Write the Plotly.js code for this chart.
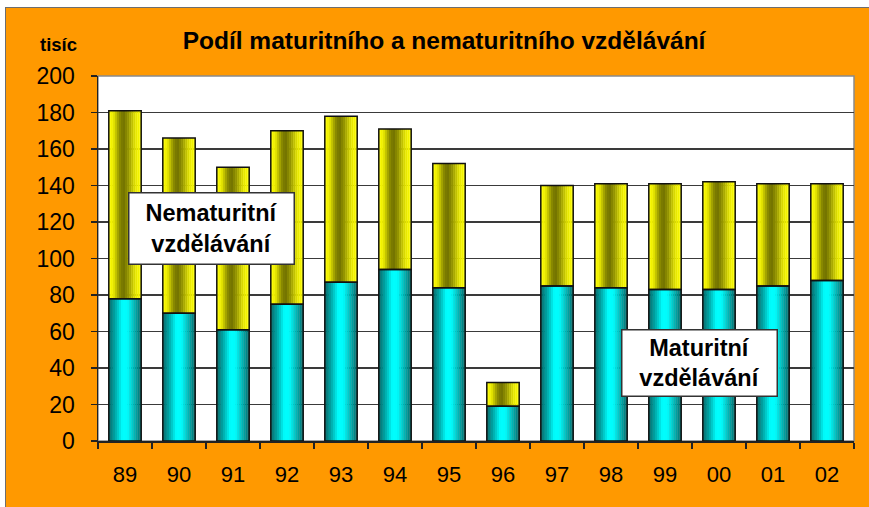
<!DOCTYPE html>
<html>
<head>
<meta charset="utf-8">
<script src="https://cdn.plot.ly/plotly-3.0.1.min.js"></script>
<style>
  html, body { margin: 0; padding: 0; background: #ffffff; width: 869px; height: 507px; overflow: hidden; }
  #frame { position: absolute; left: 5px; top: 7px; width: 864px; height: 500px; border-left: 1px solid #6e6e6e; border-top: 1px solid #6e6e6e; }
  #chart { width: 864px; height: 500px; }
</style>
</head>
<body>
<div id="frame"><div id="chart"></div></div>
<script>
// ---- data (thousands) ----
const years = ['89', '90', '91', '92', '93', '94', '95', '96', '97', '98', '99', '00', '01', '02'];
const maturitni = [78, 70, 61, 75, 87, 94, 84, 19, 85, 84, 83, 83, 85, 88];
const nematuritni = [103, 96, 89, 95, 91, 77, 68, 13, 55, 57, 58, 59, 56, 53];
const yTicks = [0, 20, 40, 60, 80, 100, 120, 140, 160, 180, 200];

// ---- styling helpers (cylinder-like shading via narrow strips) ----
const BAR_W = 0.6;
const N_STRIPS = 16;
const cyanStops = [[0, [0, 100, 100]], [0.2, [0, 170, 170]], [0.42, [0, 255, 255]], [0.58, [0, 250, 250]], [0.8, [0, 175, 175]], [1, [0, 100, 100]]];
const yellowStops = [[0, [255, 255, 0]], [0.14, [235, 235, 0]], [0.33, [140, 140, 0]], [0.45, [112, 112, 0]], [0.6, [150, 150, 0]], [0.82, [230, 230, 0]], [1, [255, 255, 0]]];

function colorAt(stops, t) {
  for (let k = 0; k < stops.length - 1; k++) {
    const [t0, c0] = stops[k], [t1, c1] = stops[k + 1];
    if (t >= t0 && t <= t1) {
      const f = (t - t0) / (t1 - t0);
      const c = c0.map((v, j) => Math.round(v + (c1[j] - v) * f));
      return 'rgb(' + c.join(',') + ')';
    }
  }
  const c = stops[stops.length - 1][1];
  return 'rgb(' + c.join(',') + ')';
}

const traces = [];
const stripW = BAR_W / N_STRIPS;
for (let i = 0; i < N_STRIPS; i++) {
  const t = (i + 0.5) / N_STRIPS;
  traces.push({
    type: 'bar', x: years, y: maturitni, base: 0,
    width: stripW * 1.05, offset: -BAR_W / 2 + i * stripW,
    marker: { color: colorAt(cyanStops, t), line: { width: 0 } },
    hoverinfo: 'skip', showlegend: false
  });
  traces.push({
    type: 'bar', x: years, y: nematuritni, base: maturitni,
    width: stripW * 1.05, offset: -BAR_W / 2 + i * stripW,
    marker: { color: colorAt(yellowStops, t), line: { width: 0 } },
    hoverinfo: 'skip', showlegend: false
  });
}
// outlines
traces.push({
  type: 'bar', x: years, y: maturitni, base: 0, width: BAR_W, offset: -BAR_W / 2,
  marker: { color: 'rgba(0,0,0,0)', line: { color: '#111111', width: 1.5 } },
  hoverinfo: 'skip', showlegend: false
});
traces.push({
  type: 'bar', x: years, y: nematuritni, base: maturitni, width: BAR_W, offset: -BAR_W / 2,
  marker: { color: 'rgba(0,0,0,0)', line: { color: '#111111', width: 1.5 } },
  hoverinfo: 'skip', showlegend: false
});

const layout = {
  width: 864, height: 500,
  margin: { l: 92, r: 16, t: 68, b: 67, pad: 0 },
  paper_bgcolor: '#ff9900',
  plot_bgcolor: '#ffffff',
  barmode: 'overlay',
  hovermode: false,
  title: {
    text: '<b>Podíl maturitního a nematuritního vzdělávání</b>',
    font: { family: 'Liberation Sans, Arial, sans-serif', size: 24.5, color: '#000000' },
    x: 0.507, xanchor: 'center', y: 0.935, yanchor: 'middle'
  },
  xaxis: {
    type: 'category', range: [-0.5, 13.5],
    tickson: 'boundaries', ticks: 'outside', ticklen: 6, tickwidth: 1.5, tickcolor: '#222222',
    showline: true, linecolor: '#222222', linewidth: 1.5,
    showgrid: false, zeroline: false,
    ticklabelstandoff: 13,
    tickfont: { family: 'Liberation Sans Narrow, Arial Narrow, Liberation Sans, Arial, sans-serif', size: 22, color: '#000000' }
  },
  yaxis: {
    range: [0, 200], tickmode: 'array', tickvals: yTicks, ticktext: yTicks.map(String),
    ticks: 'outside', ticklen: 6, tickwidth: 1.5, tickcolor: '#222222',
    showline: true, linecolor: '#222222', linewidth: 1.5,
    showgrid: true, gridcolor: '#3a3a3a', gridwidth: 1.2, zeroline: false,
    ticklabelstandoff: 11,
    tickfont: { family: 'Liberation Sans, Arial, sans-serif', size: 23, color: '#000000' }
  },
  shapes: [
    { type: 'rect', xref: 'paper', yref: 'paper', x0: 0, x1: 1, y0: 0, y1: 1,
      line: { color: '#8a8a8a', width: 1.5 }, layer: 'below' }
  ],
  annotations: [
    { text: '<b>tisíc</b>', xref: 'paper', yref: 'paper', x: -0.052, y: 1.085,
      xanchor: 'center', yanchor: 'middle', showarrow: false,
      font: { family: 'Liberation Sans, Arial, sans-serif', size: 18.5, color: '#000000' } },
    { text: '<b>Nematuritní<br>vzdělávání</b>', xref: 'paper', yref: 'paper', x: 0.1495, y: 0.581,
      xanchor: 'center', yanchor: 'middle', showarrow: false,
      bgcolor: '#ffffff', bordercolor: '#333333', borderwidth: 1.5, width: 162, height: 68,
      font: { family: 'Liberation Sans, Arial, sans-serif', size: 23.5, color: '#000000' } },
    { text: '<b>Maturitní<br>vzdělávání</b>', xref: 'paper', yref: 'paper', x: 0.796, y: 0.2137,
      xanchor: 'center', yanchor: 'middle', showarrow: false,
      bgcolor: '#ffffff', bordercolor: '#333333', borderwidth: 1.5, width: 152, height: 63,
      font: { family: 'Liberation Sans, Arial, sans-serif', size: 23.5, color: '#000000' } }
  ]
};

Plotly.newPlot('chart', traces, layout, { displayModeBar: false, staticPlot: true });
</script>
</body>
</html>
